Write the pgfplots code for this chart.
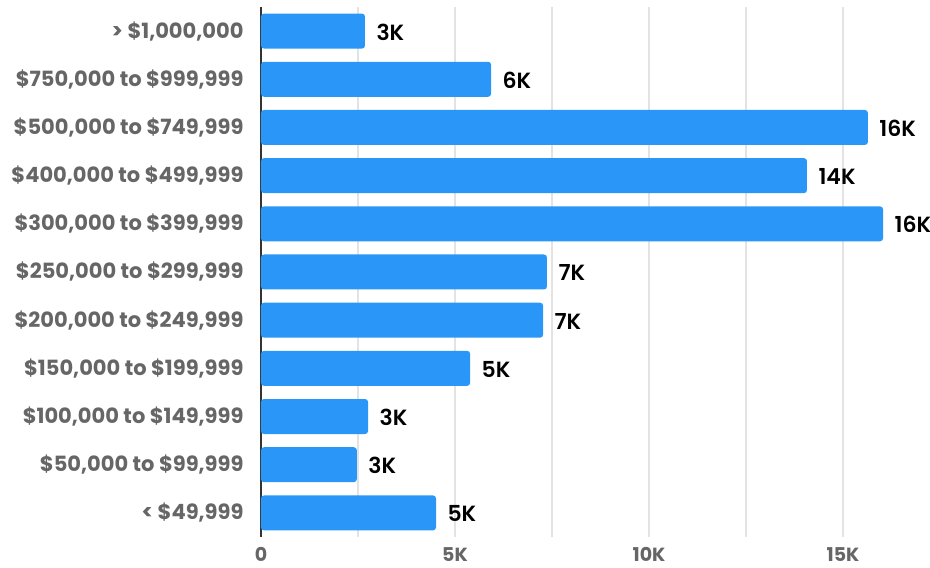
\documentclass[border=0pt]{standalone}
\usepackage{pgfplots}
\pgfplotsset{compat=1.18}
\usepackage{pgfplotstable}
\usepackage{fontspec}
\setmainfont{Poppins}
\newfontfamily\semib{Poppins SemiBold}
\definecolor{barblue}{HTML}{2A97F8}
\definecolor{labgray}{HTML}{666666}
\definecolor{gridgray}{HTML}{E3E3E3}
\pgfplotstableread{
i v lab
0 4.51 5K
1 2.47 3K
2 2.76 3K
3 5.39 5K
4 7.27 7K
5 7.37 7K
6 16.03 16K
7 14.07 14K
8 15.64 16K
9 5.93 6K
10 2.68 3K
}\datatable
\begin{document}
\begin{tikzpicture}
\begin{axis}[
  at={(0pt,0pt)}, anchor=south west,
  scale only axis, width=669pt, height=530pt,
  xmin=0, xmax=17.24, ymin=-0.5, ymax=10.5,
  xbar, bar width=35pt,
  axis lines*=left,
  x axis line style={draw=none},
  y axis line style={draw=black!80, line width=1.2pt},
  xtick={0,5,10,15}, xticklabels={0,5K,10K,15K},
  minor xtick={2.5,7.5,12.5,17.5},
  xmajorgrids, xminorgrids,
  major grid style={gridgray, line width=1.2pt},
  minor grid style={gridgray, line width=1.2pt},
  ytick={0,...,10},
  yticklabels={{< \$49,999},{\$50,000 to \$99,999},{\$100,000 to \$149,999},{\$150,000 to \$199,999},{\$200,000 to \$249,999},{\$250,000 to \$299,999},{\$300,000 to \$399,999},{\$400,000 to \$499,999},{\$500,000 to \$749,999},{\$750,000 to \$999,999},{> \$1,000,000}},
  major tick length=0pt, minor tick length=0pt,
  yticklabel style={font=\fontsize{21}{24}\selectfont\bfseries, text=labgray, anchor=east, xshift=-14pt},
  xticklabel style={font=\fontsize{19}{22}\selectfont\bfseries, text=labgray, anchor=north, inner sep=0pt, text depth=0pt, yshift=-10pt},
  /pgf/number format/assume math mode=true,
  clip=false,
  nodes near coords,
  point meta=explicit symbolic,
  every node near coord/.append style={font=\fontsize{22}{26}\selectfont\semib, text=black, anchor=west, xshift=8pt, yshift=-1pt},
]
\addplot[fill=barblue, draw=none, rounded corners=3pt] table[x=v, y=i, meta=lab] {\datatable};
\end{axis}
\pgfresetboundingbox
\useasboundingbox (-261pt,-31pt) rectangle (669pt,537pt);
\end{tikzpicture}
\end{document}
